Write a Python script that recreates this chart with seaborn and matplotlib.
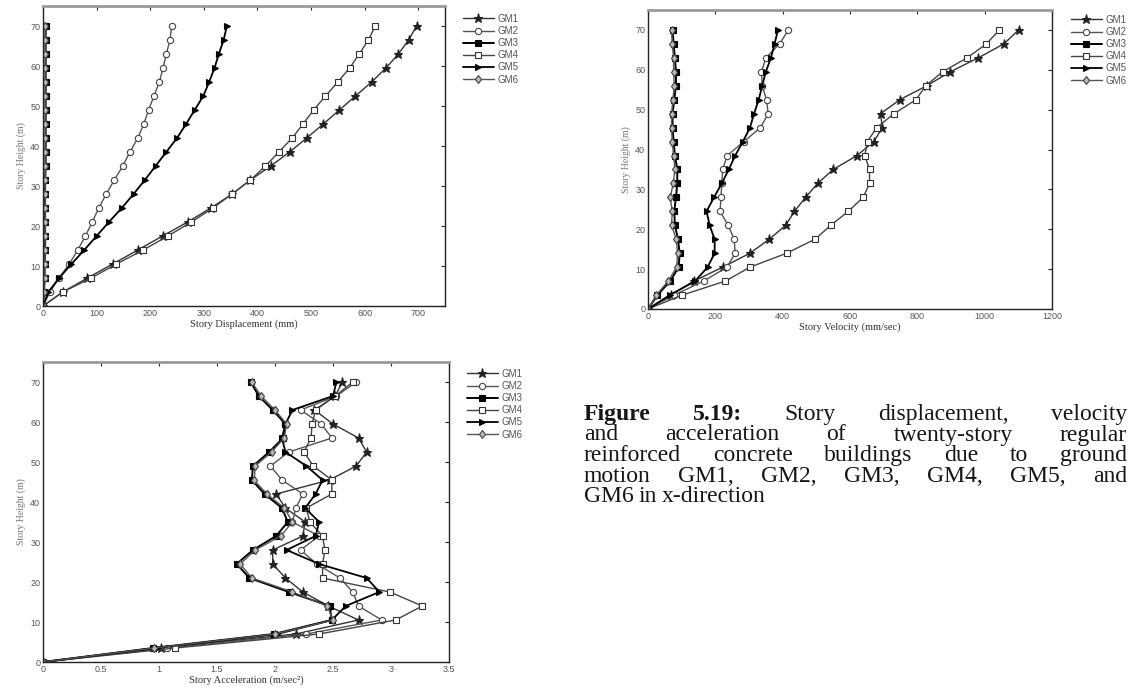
import numpy as np
import pandas as pd
import matplotlib
matplotlib.use("Agg")
import matplotlib.pyplot as plt
import seaborn as sns
from matplotlib.lines import Line2D

# story heights (m), 20 stories at 3.5 m
heights = [0.0, 3.5, 7.0, 10.5, 14.0, 17.5, 21.0, 24.5, 28.0, 31.5, 35.0,
           38.5, 42.0, 45.5, 49.0, 52.5, 56.0, 59.5, 63.0, 66.5, 70.0]
motions = ["GM1", "GM2", "GM3", "GM4", "GM5", "GM6"]

# story displacement (mm)
disp_gm1 = [0, 37, 83, 130, 177, 223, 270, 313, 353, 387, 425, 460, 492, 523, 553, 583, 613, 640, 663, 682, 697]
disp_gm2 = [0, 13, 30, 49, 65, 79, 92, 104, 118, 133, 149, 162, 177, 188, 197, 207, 217, 224, 230, 237, 240]
disp_gm3 = [0, 2, 3, 3, 4, 4, 4, 4, 4, 4, 5, 5, 5, 5, 5, 5, 5, 5, 5, 5, 5]
disp_gm4 = [0, 37, 90, 137, 187, 233, 277, 317, 353, 387, 415, 440, 465, 485, 505, 527, 550, 572, 590, 607, 620]
disp_gm5 = [0, 10, 30, 53, 77, 100, 123, 147, 169, 190, 210, 230, 250, 267, 283, 299, 310, 320, 328, 337, 343]
disp_gm6 = [0, 2, 3, 3, 3, 4, 4, 4, 4, 4, 4, 4, 4, 4, 4, 4, 4, 4, 4, 4, 4]

# story velocity (mm/sec)
vel_gm1 = [0, 68, 136, 222, 303, 360, 409, 435, 468, 504, 550, 621, 671, 696, 691, 748, 828, 898, 981, 1057, 1101]
vel_gm2 = [0, 78, 165, 235, 259, 256, 238, 214, 217, 219, 222, 235, 285, 334, 357, 352, 339, 337, 350, 391, 417]
vel_gm3 = [0, 28, 66, 91, 94, 89, 80, 78, 83, 87, 87, 80, 76, 73, 73, 78, 83, 83, 80, 76, 73]
vel_gm4 = [0, 102, 230, 303, 412, 496, 543, 595, 639, 658, 658, 644, 652, 679, 731, 796, 825, 875, 948, 1005, 1044]
vel_gm5 = [0, 65, 140, 177, 198, 198, 183, 174, 196, 219, 240, 259, 282, 303, 315, 329, 339, 350, 365, 376, 386]
vel_gm6 = [0, 25, 60, 85, 88, 84, 70, 72, 66, 75, 80, 76, 72, 70, 70, 74, 78, 76, 76, 72, 70]

# story acceleration (m/sec^2)
acc_gm1 = [0, 1.02, 2.18, 2.72, 2.46, 2.24, 2.09, 1.98, 1.98, 2.24, 2.26, 2.09, 2.01, 2.47, 2.70, 2.79, 2.72, 2.50, 2.34, 2.52, 2.58]
acc_gm2 = [0, 1.07, 2.27, 2.92, 2.72, 2.67, 2.56, 2.36, 2.22, 2.38, 2.15, 2.18, 2.24, 2.06, 1.96, 2.12, 2.49, 2.40, 2.22, 2.53, 2.70]
acc_gm3 = [0, 0.95, 1.99, 2.49, 2.47, 2.12, 1.78, 1.67, 1.81, 2.01, 2.11, 2.06, 1.91, 1.80, 1.81, 1.95, 2.07, 2.09, 1.98, 1.86, 1.79]
acc_gm4 = [0, 1.14, 2.38, 3.04, 3.27, 2.99, 2.41, 2.41, 2.43, 2.41, 2.30, 2.27, 2.49, 2.49, 2.33, 2.25, 2.31, 2.32, 2.35, 2.52, 2.67]
acc_gm5 = [0, 0.98, 2.02, 2.49, 2.61, 2.90, 2.79, 2.38, 2.10, 2.35, 2.38, 2.26, 2.35, 2.41, 2.27, 2.09, 2.06, 2.09, 2.15, 2.50, 2.53]
acc_gm6 = [0, 0.96, 2.00, 2.50, 2.45, 2.15, 1.80, 1.70, 1.83, 2.05, 2.15, 2.08, 1.93, 1.82, 1.83, 1.97, 2.08, 2.10, 2.00, 1.88, 1.80]

disp_ticks = [0, 100, 200, 300, 400, 500, 600, 700]
vel_ticks = [0, 200, 400, 600, 800, 1000, 1200]
acc_ticks = [0, 0.5, 1, 1.5, 2, 2.5, 3, 3.5]
acc_ticklabels = ["0", "0.5", "1", "1.5", "2", "2.5", "3", "3.5"]
height_ticks = [0, 10, 20, 30, 40, 50, 60, 70]

caption = [
    "Figure 5.19: Story displacement, velocity",
    "and acceleration of twenty-story regular",
    "reinforced concrete buildings due to ground",
    "motion GM1, GM2, GM3, GM4, GM5, and",
    "GM6 in x-direction",
]


def long_table(series):
    rows = []
    for gm, vals in zip(motions, series):
        for h, v in zip(heights, vals):
            rows.append({"GM": gm, "height": h, "value": v})
    return pd.DataFrame(rows)


# MATLAB-like marker styles per ground motion
styles = {
    "GM1": dict(marker="*", ms=6.5, mfc="#222222", mec="#222222", color="#333333", lw=1.0),
    "GM2": dict(marker="o", ms=4.5, mfc="white", mec="#444444", color="#555555", lw=1.0),
    "GM3": dict(marker="s", ms=4.5, mfc="black", mec="black", color="black", lw=1.4),
    "GM4": dict(marker="s", ms=5.0, mfc="white", mec="#333333", color="#444444", lw=1.0),
    "GM5": dict(marker=">", ms=5.0, mfc="black", mec="black", color="black", lw=1.3),
    "GM6": dict(marker="d", ms=4.5, mfc="#bbbbbb", mec="#444444", color="#555555", lw=1.0),
}

sns.set_style("white")
plt.rcParams["font.family"] = ["Liberation Sans", "DejaVu Sans"]

W, H = 1131, 696
fig = plt.figure(figsize=(W / 100, H / 100), dpi=100)


def px_axes(left, top, right, bottom):
    return fig.add_axes([left / W, 1 - bottom / H, (right - left) / W, (bottom - top) / H])


def draw_panel(ax, series, xmax, xticks, xticklabels, xlabel, legend_xy):
    df = long_table(series)
    for gm in motions:
        st = styles[gm]
        sns.lineplot(data=df[df["GM"] == gm], x="value", y="height", sort=False,
                     estimator=None, ax=ax, legend=False, color=st["color"],
                     linewidth=st["lw"], marker=st["marker"], markersize=st["ms"],
                     markerfacecolor=st["mfc"], markeredgecolor=st["mec"],
                     markeredgewidth=0.8)
    ax.set_xlim(0, xmax)
    ax.set_ylim(0, 75)
    ax.set_xticks(xticks)
    ax.set_xticklabels(xticklabels)
    ax.set_yticks(height_ticks)
    ax.tick_params(direction="in", top=True, right=True, length=3, width=0.8,
                   labelsize=6.5, labelcolor="#555555", pad=2)
    for side in ["left", "right", "bottom"]:
        ax.spines[side].set_color("#222222")
        ax.spines[side].set_linewidth(1.0)
    ax.spines["top"].set_color("#9a9a9a")
    ax.spines["top"].set_linewidth(2.0)
    ax.set_xlabel(xlabel, fontsize=7.5, family=["Liberation Serif"], color="#333333", labelpad=1)
    ax.set_ylabel("Story Height (m)", fontsize=7, family=["Liberation Serif"], color="#777777", labelpad=3)
    handles = [Line2D([], [], color=styles[g]["color"], lw=styles[g]["lw"], marker=styles[g]["marker"],
                      ms=styles[g]["ms"], mfc=styles[g]["mfc"], mec=styles[g]["mec"], mew=0.8)
               for g in motions]
    ax.legend(handles, motions, loc="upper left", bbox_to_anchor=legend_xy,
              bbox_transform=fig.transFigure, frameon=False, fontsize=7,
              handlelength=3.2, handletextpad=0.4, labelspacing=0.22, borderpad=0,
              labelcolor="#555555")


ax1 = px_axes(43, 6, 445, 306)
draw_panel(ax1, [disp_gm1, disp_gm2, disp_gm3, disp_gm4, disp_gm5, disp_gm6], 750,
           disp_ticks, [str(t) for t in disp_ticks], "Story Displacement (mm)",
           (458 / W, 1 - 9 / H))

ax2 = px_axes(648, 10, 1052, 309)
draw_panel(ax2, [vel_gm1, vel_gm2, vel_gm3, vel_gm4, vel_gm5, vel_gm6], 1200,
           vel_ticks, [str(t) for t in vel_ticks], "Story Velocity (mm/sec)",
           (1066 / W, 1 - 10 / H))

ax3 = px_axes(43, 362, 449, 662)
draw_panel(ax3, [acc_gm1, acc_gm2, acc_gm3, acc_gm4, acc_gm5, acc_gm6], 3.5,
           acc_ticks, acc_ticklabels, "Story Acceleration (m/sec²)",
           (462 / W, 1 - 364 / H))

# justified caption block
fig.canvas.draw()
renderer = fig.canvas.get_renderer()
x0, x1 = 584, 1127
y0, dy = 420, 20.5
for i, line in enumerate(caption):
    words = line.split(" ")
    texts = []
    for j, w in enumerate(words):
        bold = i == 0 and j < 2
        t = fig.text(0, 0, w, fontsize=17, family=["Liberation Serif"],
                     weight="bold" if bold else "normal", color="#151515",
                     va="baseline", ha="left")
        texts.append(t)
    widths = [t.get_window_extent(renderer).width for t in texts]
    space = 5
    if i < len(caption) - 1 and len(words) > 1:
        space = (x1 - x0 - sum(widths)) / (len(words) - 1)
    x = x0
    for t, w in zip(texts, widths):
        t.set_position((x / W, 1 - (y0 + i * dy) / H))
        x += w + space

fig.savefig("out.png", dpi=100)
